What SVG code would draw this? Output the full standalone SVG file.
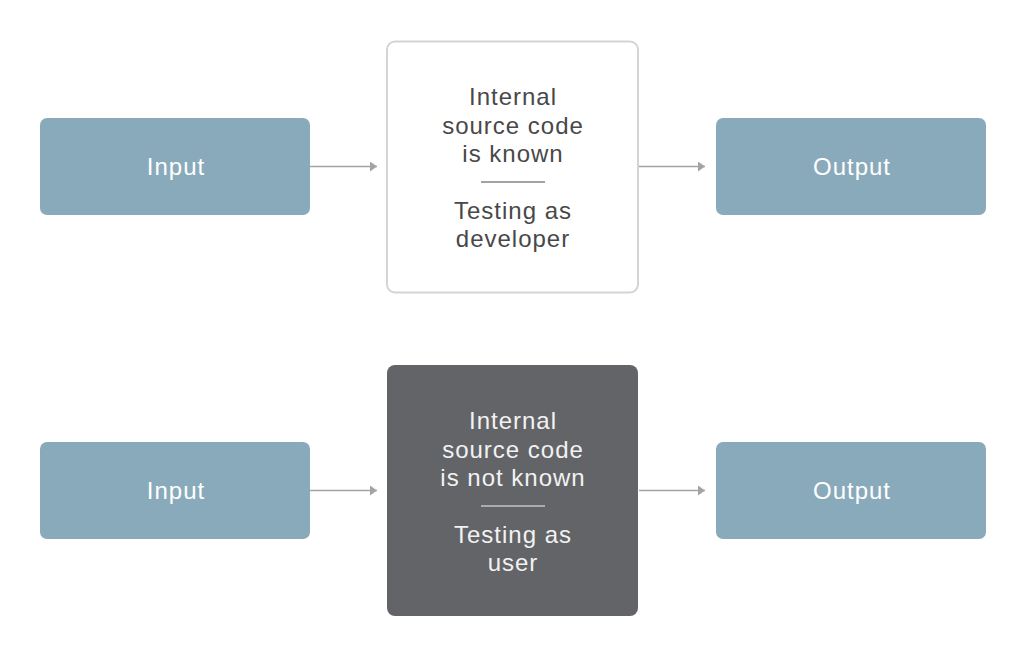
<svg xmlns="http://www.w3.org/2000/svg" width="1025" height="663" viewBox="0 0 1025 663">
<style>
.io{fill:#89aabb;}
.io-t{fill:#ffffff;font-family:"Liberation Sans",Arial,sans-serif;font-size:24px;letter-spacing:1px;text-anchor:middle;}
.mid-w{fill:#ffffff;stroke:#d4d4d4;stroke-width:2;}
.mid-d{fill:#636468;}
.t-d{fill:#48484a;font-family:"Liberation Sans",Arial,sans-serif;font-size:24px;letter-spacing:1px;text-anchor:middle;}
.t-l{fill:#f2f2f2;font-family:"Liberation Sans",Arial,sans-serif;font-size:24px;letter-spacing:1px;text-anchor:middle;}
.conn{stroke:#a3a3a3;stroke-width:1.3;fill:none;marker-end:url(#ah);}
</style>
<defs>
<marker id="ah" markerWidth="8" markerHeight="10" refX="7" refY="5" orient="auto" markerUnits="userSpaceOnUse">
<path d="M0,0 L7,5 L0,10 Z" fill="#a3a3a3"/>
</marker>
</defs>
<rect width="1025" height="663" fill="#ffffff"/>
<g id="connectors">
<line class="conn" x1="310" y1="166.5" x2="377" y2="166.5"/>
<line class="conn" x1="639" y1="166.5" x2="705" y2="166.5"/>
<line class="conn" x1="310" y1="490.5" x2="377" y2="490.5"/>
<line class="conn" x1="639" y1="490.5" x2="705" y2="490.5"/>
</g>
<g id="input1">
<rect class="io" x="40" y="118" width="270" height="97" rx="7"/>
<text class="io-t" x="176" y="175">Input</text>
</g>
<g id="whitebox">
<rect class="mid-w" x="387" y="41.5" width="251" height="251" rx="8"/>
<text class="t-d" x="513" y="105">Internal</text>
<text class="t-d" x="513" y="134">source code</text>
<text class="t-d" x="513" y="162">is known</text>
<line x1="481" y1="182" x2="545" y2="182" stroke="#48484a" stroke-width="1.2"/>
<text class="t-d" x="513" y="219">Testing as</text>
<text class="t-d" x="513" y="247">developer</text>
</g>
<g id="output1">
<rect class="io" x="716" y="118" width="270" height="97" rx="7"/>
<text class="io-t" x="852" y="175">Output</text>
</g>
<g id="input2">
<rect class="io" x="40" y="442" width="270" height="97" rx="7"/>
<text class="io-t" x="176" y="499">Input</text>
</g>
<g id="darkbox">
<rect class="mid-d" x="387" y="365" width="251" height="251" rx="8"/>
<text class="t-l" x="513" y="429">Internal</text>
<text class="t-l" x="513" y="458">source code</text>
<text class="t-l" x="513" y="486">is not known</text>
<line x1="481" y1="506" x2="545" y2="506" stroke="#f2f2f2" stroke-width="1.2"/>
<text class="t-l" x="513" y="543">Testing as</text>
<text class="t-l" x="513" y="571">user</text>
</g>
<g id="output2">
<rect class="io" x="716" y="442" width="270" height="97" rx="7"/>
<text class="io-t" x="852" y="499">Output</text>
</g>
</svg>
